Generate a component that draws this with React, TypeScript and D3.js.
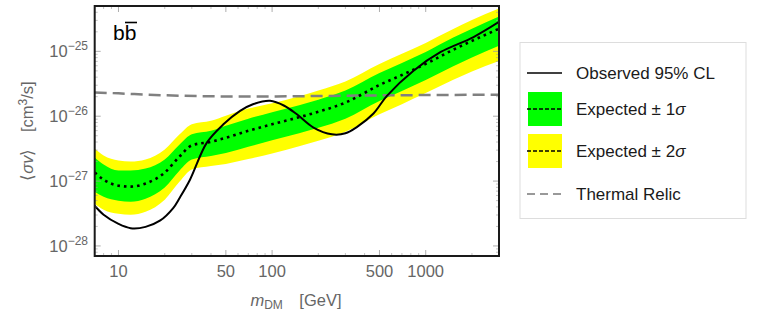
import * as d3 from 'd3'

// mass grid for the expected bands, GeV
const massGrid = [7, 8, 10, 12, 15, 20, 25, 30, 40, 50, 70, 100, 150, 200, 300, 500, 700, 1000, 1500, 2000, 3000]
const expected = [1.355e-27, 1.05e-27, 8.5e-28, 8.2e-28, 9.15e-28, 1.355e-27, 2.4e-27, 3.55e-27, 4.03e-27, 4.65e-27, 5.96e-27, 7.52e-27, 9.65e-27, 1.17e-26, 1.62e-26, 3.03e-26, 4.32e-26, 6.4e-26, 1.05e-25, 1.45e-25, 2.23e-25]
const oneSigmaHi = [2.31e-27, 1.8e-27, 1.46e-27, 1.46e-27, 1.56e-27, 2.15e-27, 3.68e-27, 5.26e-27, 5.96e-27, 7.13e-27, 9.15e-27, 1.15e-26, 1.48e-26, 1.8e-26, 2.49e-26, 4.64e-26, 6.63e-26, 9.8e-26, 1.62e-25, 2.23e-25, 3.43e-25]
const oneSigmaLo = [6.87e-28, 5.75e-28, 4.99e-28, 4.81e-28, 5.36e-28, 7.93e-28, 1.46e-27, 2.15e-27, 2.44e-27, 2.72e-27, 3.37e-27, 4.25e-27, 5.45e-27, 6.63e-27, 9.15e-27, 1.71e-26, 2.44e-26, 3.61e-26, 5.85e-26, 8.07e-26, 1.22e-25]
const twoSigmaHi = [3.19e-27, 2.49e-27, 2.08e-27, 2.0e-27, 2.15e-27, 3.08e-27, 5.26e-27, 7.52e-27, 8.51e-27, 1.02e-26, 1.31e-26, 1.59e-26, 2.04e-26, 2.49e-26, 3.43e-26, 6.4e-26, 9.15e-26, 1.35e-25, 2.19e-25, 3.03e-25, 4.56e-25]
const twoSigmaLo = [4.48e-28, 3.62e-28, 3.13e-28, 3.03e-28, 3.37e-28, 5.17e-28, 9.82e-28, 1.51e-27, 1.71e-27, 1.84e-27, 2.19e-27, 2.67e-27, 3.43e-27, 4.17e-27, 5.75e-27, 1.07e-26, 1.53e-26, 2.27e-26, 3.61e-26, 4.9e-26, 7.12e-26]

const observedMass = [7, 8, 10, 12, 15, 18.6, 22.7, 25, 29.2, 37.6, 48.2, 61.9, 75, 97, 120, 145, 186, 245, 300, 356, 457, 559, 833, 1245, 2048, 3000]
const observed = [4.17e-28, 3.03e-28, 2.19e-28, 1.88e-28, 1.97e-28, 2.45e-28, 3.84e-28, 5.5e-28, 1.05e-27, 3.91e-27, 7.5e-27, 1.21e-26, 1.53e-26, 1.73e-26, 1.45e-26, 1.07e-26, 6.68e-27, 5.26e-27, 5.45e-27, 6.8e-27, 1.1e-26, 2.06e-26, 5.03e-26, 9.7e-26, 1.66e-25, 2.84e-25]

const relicMass = [7, 10, 20, 50, 100, 300, 1000, 3000]
const relic = [2.33e-26, 2.25e-26, 2.1e-26, 2.02e-26, 2.02e-26, 2.07e-26, 2.12e-26, 2.14e-26]

const xTickLabels = [10, 50, 100, 500, 1000]
const yTickExponents = [-25, -26, -27, -28]

const W = 763
const H = 327
const left = 94.7
const right = 499
const top = 6
const bottom = 256

const tickGray = '#9a9a9a'
const labelGray = '#666'

export default function App() {
  const x = d3.scaleLog().domain([7, 3000]).range([left, right])
  const y = d3.scaleLog().domain([7e-29, 5e-25]).range([bottom, top])

  const band = (hi: number[], lo: number[]) =>
    d3
      .area<number>()
      .x((m) => x(m))
      .y0((_, i) => y(lo[i]))
      .y1((_, i) => y(hi[i]))
      .curve(d3.curveMonotoneX)(massGrid) || ''

  const line = (ms: number[], vs: number[], curve: d3.CurveFactory = d3.curveMonotoneX) =>
    d3
      .line<number>()
      .x((m) => x(m))
      .y((_, i) => y(vs[i]))
      .curve(curve)(ms) || ''

  // minor ticks
  const xMinor: number[] = []
  for (const dec of [1, 10, 100, 1000]) {
    for (let k = 1; k <= 9; k++) {
      const v = dec * k
      if (v >= 7 && v <= 3000 && !xTickLabels.includes(v)) xMinor.push(v)
    }
  }
  const yMinor: number[] = []
  for (let e = -29; e <= -25; e++) {
    for (let k = 2; k <= 9; k++) {
      const v = k * Math.pow(10, e)
      if (v >= 7e-29 && v <= 5e-25) yMinor.push(v)
    }
  }

  const legendX = 527
  const legendText = 576
  const rows = [73, 109, 151, 194]

  return (
    <svg
      width={W}
      height={H}
      style={{ position: 'absolute', left: 0, top: 0, background: '#fff' }}
      fontFamily="'Liberation Sans', Arial, sans-serif"
    >
      <defs>
        <clipPath id="plot">
          <rect x={left} y={top} width={right - left} height={bottom - top} />
        </clipPath>
      </defs>

      <g clipPath="url(#plot)">
        <path d={band(twoSigmaHi, twoSigmaLo)} fill="#ffff00" />
        <path d={band(oneSigmaHi, oneSigmaLo)} fill="#00ff00" />
        <path d={line(relicMass, relic)} fill="none" stroke="#808080" strokeWidth={2.5} strokeDasharray="12,6" />
        <path d={line(massGrid, expected)} fill="none" stroke="#000" strokeWidth={2.6} strokeDasharray="2.6,4" />
        <path d={line(observedMass, observed, d3.curveCatmullRom)} fill="none" stroke="#000" strokeWidth={2} />
      </g>

      {/* ticks on all four sides */}
      {xTickLabels.map((v) => (
        <g key={'xt' + v} stroke={tickGray} strokeWidth={0.8}>
          <line x1={x(v)} x2={x(v)} y1={bottom} y2={bottom - 6} />
          <line x1={x(v)} x2={x(v)} y1={top} y2={top + 6} />
        </g>
      ))}
      {xMinor.map((v) => (
        <g key={'xm' + v} stroke={tickGray} strokeWidth={0.6}>
          <line x1={x(v)} x2={x(v)} y1={bottom} y2={bottom - 3} />
          <line x1={x(v)} x2={x(v)} y1={top} y2={top + 3} />
        </g>
      ))}
      {yTickExponents.map((e) => (
        <g key={'yt' + e} stroke={tickGray} strokeWidth={0.8}>
          <line x1={left} x2={left + 6} y1={y(Math.pow(10, e))} y2={y(Math.pow(10, e))} />
          <line x1={right} x2={right - 6} y1={y(Math.pow(10, e))} y2={y(Math.pow(10, e))} />
        </g>
      ))}
      {yMinor.map((v, i) => (
        <g key={'ym' + i} stroke={tickGray} strokeWidth={0.6}>
          <line x1={left} x2={left + 3} y1={y(v)} y2={y(v)} />
          <line x1={right} x2={right - 3} y1={y(v)} y2={y(v)} />
        </g>
      ))}

      <rect x={left} y={top} width={right - left} height={bottom - top} fill="none" stroke="#1a1a1a" strokeWidth={2} />

      {xTickLabels.map((v) => (
        <text key={'xl' + v} x={x(v)} y={277} textAnchor="middle" fontSize={16.5} fill={labelGray}>
          {v}
        </text>
      ))}
      {yTickExponents.map((e) => (
        <text key={'yl' + e} x={88} y={y(Math.pow(10, e)) + 6} textAnchor="end" fontSize={16.5} fill={labelGray}>
          10
          <tspan fontSize={12} dy={-7}>
            {'\u2212' + Math.abs(e)}
          </tspan>
        </text>
      ))}

      <text x={296} y={306} textAnchor="middle" fontSize={16.5} fill={labelGray}>
        <tspan fontStyle="italic">m</tspan>
        <tspan fontSize={12} dy={3}>DM</tspan>
        <tspan dy={-3}>{'\u2003[GeV]'}</tspan>
      </text>
      <text transform={`translate(33,${(top + bottom) / 2}) rotate(-90)`} textAnchor="middle" fontSize={16.5} fill={labelGray}>
        {'\u27E8'}
        <tspan fontStyle="italic">σv</tspan>
        {'\u27E9\u2003[cm'}
        <tspan fontSize={12} dy={-6}>3</tspan>
        <tspan dy={6}>/s]</tspan>
      </text>

      <text x={113} y={40} fontSize={21} fill="#000">
        bb
      </text>
      <line x1={125} x2={137} y1={22.5} y2={22.5} stroke="#000" strokeWidth={1.6} />

      {/* legend */}
      <rect x={520} y={42.5} width={226} height={176} fill="#fff" stroke="#ddd" strokeWidth={1} />
      <line x1={legendX} x2={legendX + 35} y1={rows[0]} y2={rows[0]} stroke="#000" strokeWidth={1.6} />
      <rect x={legendX + 1} y={rows[1] - 17} width={34} height={34} fill="#00ff00" />
      <line x1={legendX} x2={legendX + 35} y1={rows[1]} y2={rows[1]} stroke="#000" strokeWidth={1.3} strokeDasharray="4,2" />
      <rect x={legendX + 1} y={rows[2] - 17} width={34} height={34} fill="#ffff00" />
      <line x1={legendX} x2={legendX + 35} y1={rows[2]} y2={rows[2]} stroke="#000" strokeWidth={1.3} strokeDasharray="4,2" />
      <line x1={legendX} x2={legendX + 35} y1={rows[3]} y2={rows[3]} stroke="#999" strokeWidth={2} strokeDasharray="8,5" />

      <text x={legendText} y={rows[0] + 6} fontSize={17} fill="#1a1a1a">Observed 95% CL</text>
      <text x={legendText} y={rows[1] + 6} fontSize={17} fill="#1a1a1a">
        Expected ± 1<tspan fontStyle="italic">σ</tspan>
      </text>
      <text x={legendText} y={rows[2] + 6} fontSize={17} fill="#1a1a1a">
        Expected ± 2<tspan fontStyle="italic">σ</tspan>
      </text>
      <text x={legendText} y={rows[3] + 6} fontSize={17} fill="#1a1a1a">Thermal Relic</text>
    </svg>
  )
}
